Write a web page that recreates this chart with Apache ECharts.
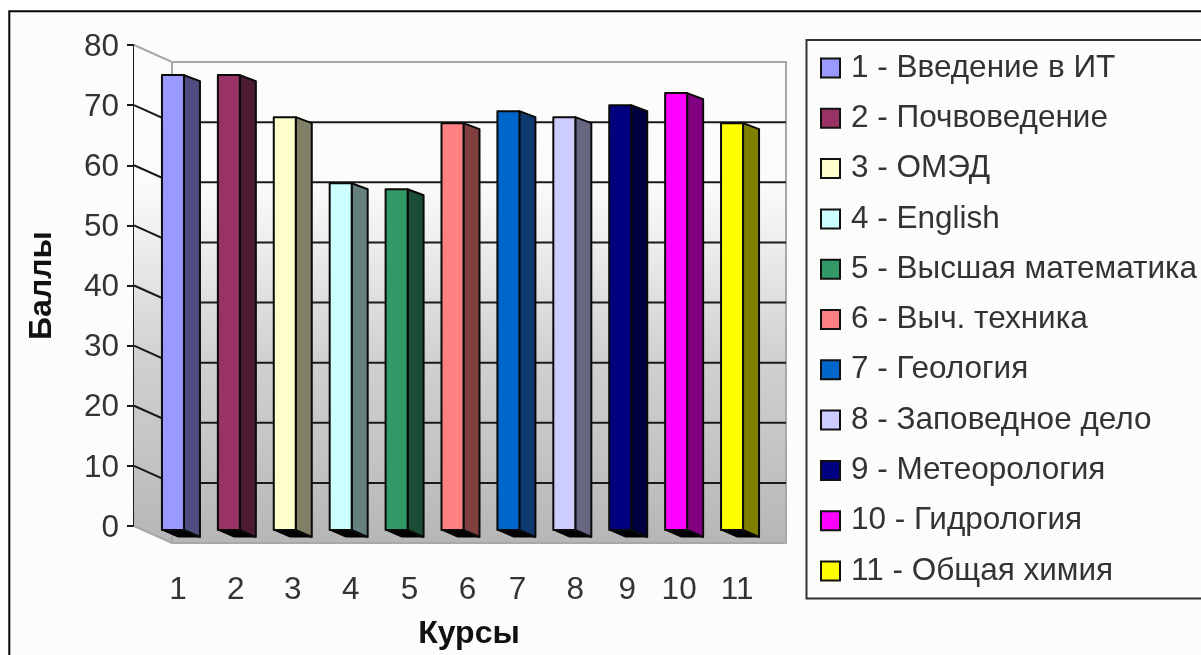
<!DOCTYPE html>
<html>
<head>
<meta charset="utf-8">
<style>html,body{margin:0;padding:0;background:#fff}#chart{width:1201px;height:655px}</style>
<script src="https://cdn.jsdelivr.net/npm/echarts@6/dist/echarts.min.js"></script>
</head>
<body>
<div id="chart"></div>
<script>
// Course numbers, subject names and average scores
const courses = ['1','2','3','4','5','6','7','8','9','10','11'];
const subjects = ['1 - Введение в ИТ','2 - Почвоведение','3 - ОМЭД','4 - English','5 - Высшая математика','6 - Выч. техника','7 - Геология','8 - Заповедное дело','9 - Метеорология','10 - Гидрология','11 - Общая химия'];
const scores = [75,75,68,57,56,67,69,68,70,72,67];
const frontColors = ['#9999ff','#993366','#ffffcc','#ccffff','#339966','#ff8080','#0066cc','#ccccff','#000080','#ff00ff','#ffff00'];
const sideColors = ['#4d4d80','#4d1a33','#808066','#668080','#1a4d33','#804040','#0f3a70','#666680','#000040','#800080','#808000'];
const gridValues = [0,10,20,30,40,50,60,70,80];

// Pseudo-3D projection constants, in pixels
const WALL_DX = 38, WALL_DY = 17;
const AXIS_SHIFT = 19;
const BAR_W = 22, SIDE_DX = 16, SIDE_DY = 6, FOOT_DY = 4, BAR_SHIFT = -8;
const labelNudge = [-3,-1,0,2,5,7,1,3,-1,-5,-3];
const FONT = '"Liberation Sans", Arial, sans-serif';
const TEXT = '#333';

const wallFill = {
  type: 'linear', x: 0, y: 62, x2: 0, y2: 543, global: true,
  colorStops: [
    {offset: 0, color: '#fcfcfa'},
    {offset: 0.25, color: '#fbfbf9'},
    {offset: 0.38, color: '#ededed'},
    {offset: 0.50, color: '#dedede'},
    {offset: 0.62, color: '#d0d0d0'},
    {offset: 0.75, color: '#c8c8c8'},
    {offset: 0.87, color: '#c0c0c0'},
    {offset: 1, color: '#b6b6b6'}
  ]
};

function renderWalls(params, api) {
  const cs = params.coordSys;
  const x0 = cs.x - AXIS_SHIFT, yTop = api.coord([0, 80])[1], yZero = api.coord([0, 0])[1];
  const bx = x0 + WALL_DX, rx = cs.x + cs.width + AXIS_SHIFT - 1;
  return {
    type: 'group',
    children: [
      {type: 'polygon', shape: {points: [[x0,yTop],[bx,yTop+WALL_DY],[bx,yZero+WALL_DY],[x0,yZero]]}, style: {fill: wallFill}},
      {type: 'rect', shape: {x: bx, y: yTop+WALL_DY, width: rx-bx, height: yZero-yTop}, style: {fill: wallFill, stroke: '#a8a8a8', lineWidth: 2}}
    ]
  };
}

function renderGridLine(params, api) {
  const cs = params.coordSys;
  const v = api.value(1);
  const y = api.coord([0, v])[1];
  const x0 = cs.x - AXIS_SHIFT, bx = x0 + WALL_DX, rx = cs.x + cs.width + AXIS_SHIFT - 1;
  const edge = v === 0 || v === 80;
  const style = {stroke: edge ? '#a8a8a8' : '#1a1a1a', lineWidth: 2, fill: 'none'};
  return {type: 'polyline', shape: {points: [[x0,y],[bx,y+WALL_DY],[rx,y+WALL_DY]]}, style: style};
}

function makeBarRenderer(side) {
  return function (params, api) {
    const top = api.coord([api.value(0), api.value(1)]);
    const zero = api.coord([api.value(0), 0]);
    const xl = top[0] + BAR_SHIFT - BAR_W / 2, xr = xl + BAR_W;
    const yt = top[1], yb = zero[1] + FOOT_DY;
    const edge = {stroke: '#0a0a0a', lineWidth: 2, lineJoin: 'round'};
    return {
      type: 'group',
      children: [
        {type: 'polygon', shape: {points: [[xl,yb],[xr,yb],[xr+SIDE_DX,yb+SIDE_DY+1],[xl+SIDE_DX,yb+SIDE_DY+1]]}, style: {fill: '#000', stroke: '#000', lineWidth: 1}},
        {type: 'polygon', shape: {points: [[xr,yt],[xr+SIDE_DX,yt+SIDE_DY],[xr+SIDE_DX,yb+SIDE_DY+1],[xr,yb]]}, style: Object.assign({fill: side}, edge)},
        {type: 'rect', shape: {x: xl, y: yt, width: BAR_W, height: yb-yt}, style: Object.assign({fill: api.visual('color')}, edge)}
      ]
    };
  };
}

const barSeries = subjects.map((name, i) => ({
  type: 'custom',
  name: name,
  z: 5,
  clip: false,
  itemStyle: {color: frontColors[i]},
  encode: {x: 0, y: 1},
  data: [[i, scores[i]]],
  renderItem: makeBarRenderer(sideColors[i])
}));

const axisLabels = courses.map((c, i) => {
  const n = labelNudge[i];
  return {value: c, textStyle: {padding: n >= 0 ? [0,0,0,2*n] : [0,-2*n,0,0]}};
});

const chart = echarts.init(document.getElementById('chart'), null, {renderer: 'canvas'});
chart.setOption({
  animation: false,
  backgroundColor: '#fff',
  grid: {left: 153, top: 45, width: 615, height: 481, containLabel: false},
  graphic: [
    {type: 'rect', z: -10, silent: true, shape: {x: 9.3, y: 11.3, width: 1300, height: 800}, style: {fill: '#fcfcfa', stroke: '#050505', lineWidth: 2}},
    {type: 'rect', z: -9, silent: true, shape: {x: 806.5, y: 40, width: 500, height: 558.5}, style: {fill: '#fcfcfa', stroke: '#333', lineWidth: 2}}
  ],
  legend: {
    orient: 'vertical',
    left: 820,
    top: 52,
    padding: 0,
    itemWidth: 19,
    itemHeight: 19,
    itemGap: 18.3,
    icon: 'rect',
    data: subjects,
    selectedMode: false,
    itemStyle: {borderColor: '#111', borderWidth: 2},
    textStyle: {fontFamily: FONT, fontSize: 31.5, color: TEXT, padding: [0,0,0,6]}
  },
  xAxis: {
    type: 'category',
    data: axisLabels,
    axisLine: {show: false},
    axisTick: {show: false},
    axisLabel: {fontFamily: FONT, fontSize: 31.5, color: TEXT, margin: 48},
    name: 'Курсы',
    nameLocation: 'middle',
    nameGap: 92,
    nameTextStyle: {fontFamily: FONT, fontSize: 32, fontWeight: 'bold', color: '#111', padding: [0,0,0,17]}
  },
  yAxis: {
    type: 'value',
    min: 0,
    max: 80,
    interval: 10,
    offset: AXIS_SHIFT,
    axisLine: {show: true, lineStyle: {color: '#1a1a1a', width: 2}},
    axisTick: {show: true, length: 7, lineStyle: {color: '#1a1a1a', width: 2}},
    splitLine: {show: false},
    axisLabel: {
      margin: 15,
      formatter: '{n|{value}}',
      rich: {n: {fontFamily: FONT, fontSize: 31.5, color: TEXT, padding: [4,0,0,0]}}
    },
    name: 'Баллы',
    nameLocation: 'middle',
    nameGap: 76,
    nameTextStyle: {fontFamily: FONT, fontSize: 32, fontWeight: 'bold', color: '#111'}
  },
  series: [
    {type: 'custom', name: 'walls', z: 1, clip: false, silent: true, encode: {x: 0, y: 1}, data: [[0, 0]], renderItem: renderWalls},
    {type: 'custom', name: 'gridlines', z: 2, clip: false, silent: true, encode: {x: 0, y: 1}, data: gridValues.map(v => [0, v]), renderItem: renderGridLine}
  ].concat(barSeries)
});
</script>
</body>
</html>
